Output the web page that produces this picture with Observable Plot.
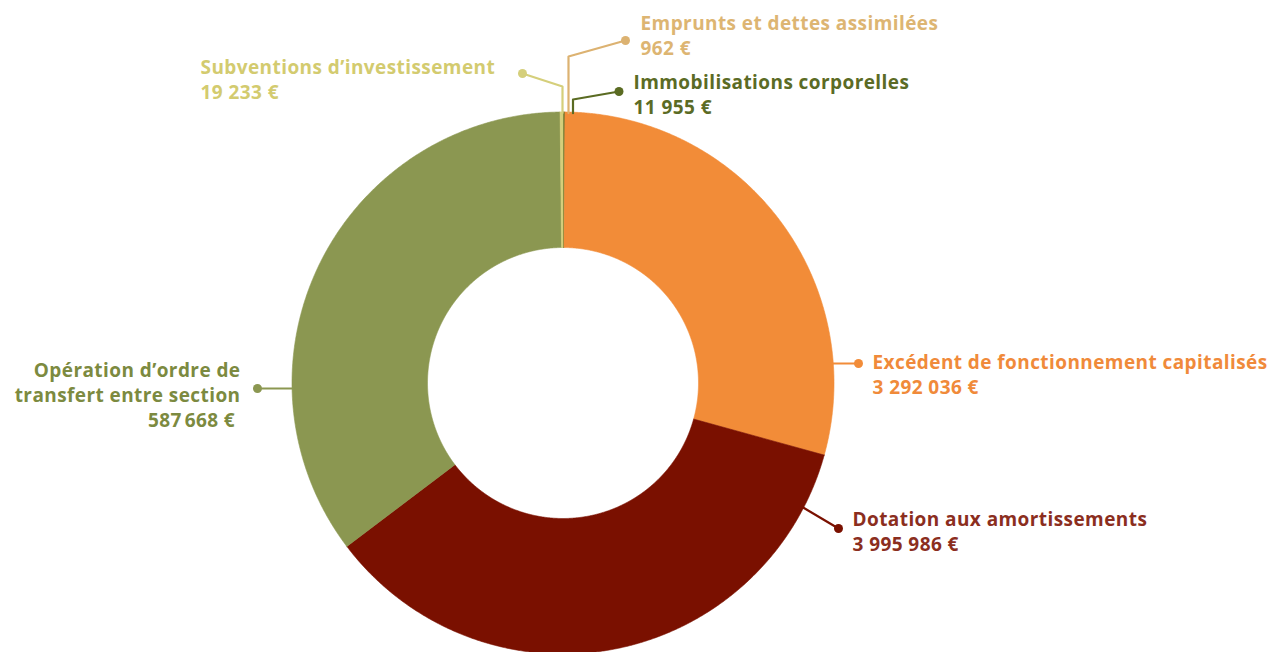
<!DOCTYPE html>
<html>
<head>
<meta charset="utf-8">
<script src="https://cdn.jsdelivr.net/npm/d3@7"></script>
<script src="https://cdn.jsdelivr.net/npm/@observablehq/plot@0.6"></script>
<style>
  html, body { margin: 0; padding: 0; background: #ffffff; }
  #chart svg { display: block; }
  #chart text { letter-spacing: 0.42px; }
</style>
</head>
<body>
<div id="chart"></div>
<script>
// ---- Data (clockwise from 12 o'clock) ----
const categories = [
  "Emprunts et dettes assimilées",
  "Immobilisations corporelles",
  "Excédent de fonctionnement capitalisés",
  "Dotation aux amortissements",
  "Opération d’ordre de\ntransfert entre section",
  "Subventions d’investissement"
];
const values = [962, 11955, 3292036, 3995986, 3965000, 19233];
const valueLabels = ["962 €", "11 955 €", "3 292 036 €", "3 995 986 €", "587\u202f668 €\u00a0", "19 233 €"];

// ---- Styles ----
const sliceColors = ["#DCB271", "#5A6B22", "#F28C38", "#7A1000", "#8B9751", "#D5CF7B"];
const textColors  = ["#DDB572", "#5B6B25", "#F08A3A", "#8B2E1E", "#7C8A40", "#D3CB6F"];

// ---- Geometry ----
const W = 1271, H = 652;
const cx = 562.5, cy = 382.5, R = 271, R0 = 135.5;
const fontSize = 19, lineGap = 25;

// annotation layout (label placement around the donut)
const layout = [
  {elbow: [568, 56],   dot: [625, 40],  tx: 640, ty: 12,  anchor: "start"},
  {elbow: [572.5, 99], dot: [618.5, 91], tx: 633, ty: 71, anchor: "start"},
  {side: 1,  ly: 363,  dot: [858, 363], tx: 872, ty: 351, anchor: "start"},
  {angle: 117.4,       dot: [838, 528], tx: 852, ty: 508, anchor: "start"},
  {side: -1, ly: 388,  dot: [257, 388], tx: 240, ty: 359, anchor: "end"},
  {elbow: [562, 86],   dot: [522, 73],  tx: 200, ty: 56,  anchor: "start"}
];

const pie = d3.pie().sort(null).value(d => d)(values);

// slice polygons
const slicePts = [];
pie.forEach((a, i) => {
  const n = Math.max(2, Math.ceil((a.endAngle - a.startAngle) / 0.005));
  const pts = [];
  for (let k = 0; k <= n; k++) {
    const t = a.startAngle + (a.endAngle - a.startAngle) * k / n;
    pts.push([cx + R * Math.sin(t), cy - R * Math.cos(t)]);
  }
  for (let k = n; k >= 0; k--) {
    const t = a.startAngle + (a.endAngle - a.startAngle) * k / n;
    pts.push([cx + R0 * Math.sin(t), cy - R0 * Math.cos(t)]);
  }
  pts.push(pts[0]);
  pts.forEach(p => slicePts.push({key: i, x: p[0], y: p[1], color: sliceColors[i]}));
});

// leader lines
const leaderPts = [];
const dots = [];
const texts = [];
layout.forEach((L, i) => {
  let path;
  if (L.elbow) {
    const ex = L.elbow[0];
    const sy = cy - Math.sqrt(R * R - (ex - cx) * (ex - cx)) + 1;
    path = [[ex, sy], L.elbow, L.dot];
  } else if (L.side) {
    const sx = cx + L.side * Math.sqrt(R * R - (L.ly - cy) * (L.ly - cy)) - L.side;
    path = [[sx, L.ly], L.dot];
  } else {
    const t = L.angle * Math.PI / 180;
    path = [[cx + (R - 1) * Math.sin(t), cy - (R - 1) * Math.cos(t)], L.dot];
  }
  path.forEach(p => leaderPts.push({key: i, x: p[0], y: p[1], color: sliceColors[i]}));
  dots.push({x: L.dot[0], y: L.dot[1], color: sliceColors[i]});
  texts.push({
    x: L.tx, y: L.ty, anchor: L.anchor,
    text: categories[i] + "\n" + valueLabels[i],
    color: textColors[i]
  });
});

const chart = Plot.plot({
  width: W, height: H,
  margin: 0,
  x: {domain: [0, W], range: [0, W], axis: null},
  y: {domain: [0, H], range: [0, H], axis: null},
  color: {type: "identity"},
  style: {background: "#ffffff", fontFamily: "'Open Sans', sans-serif"},
  marks: [
    Plot.line(slicePts, {x: "x", y: "y", z: "key", fill: "color", stroke: "color", strokeWidth: 0.6, curve: "linear"}),
    Plot.line(leaderPts, {x: "x", y: "y", z: "key", stroke: "color", strokeWidth: 2.2, curve: "linear"}),
    Plot.dot(dots, {x: "x", y: "y", r: 4.5, fill: "color", stroke: null}),
    Plot.text(texts.filter(d => d.anchor === "start"), {
      x: "x", y: "y", text: "text", fill: "color",
      textAnchor: "start", lineAnchor: "top", lineHeight: lineGap / fontSize,
      fontSize: fontSize, fontWeight: 700
    }),
    Plot.text(texts.filter(d => d.anchor === "end"), {
      x: "x", y: "y", text: "text", fill: "color",
      textAnchor: "end", lineAnchor: "top", lineHeight: lineGap / fontSize,
      fontSize: fontSize, fontWeight: 700
    })
  ]
});
document.getElementById("chart").appendChild(chart);
</script>
</body>
</html>
